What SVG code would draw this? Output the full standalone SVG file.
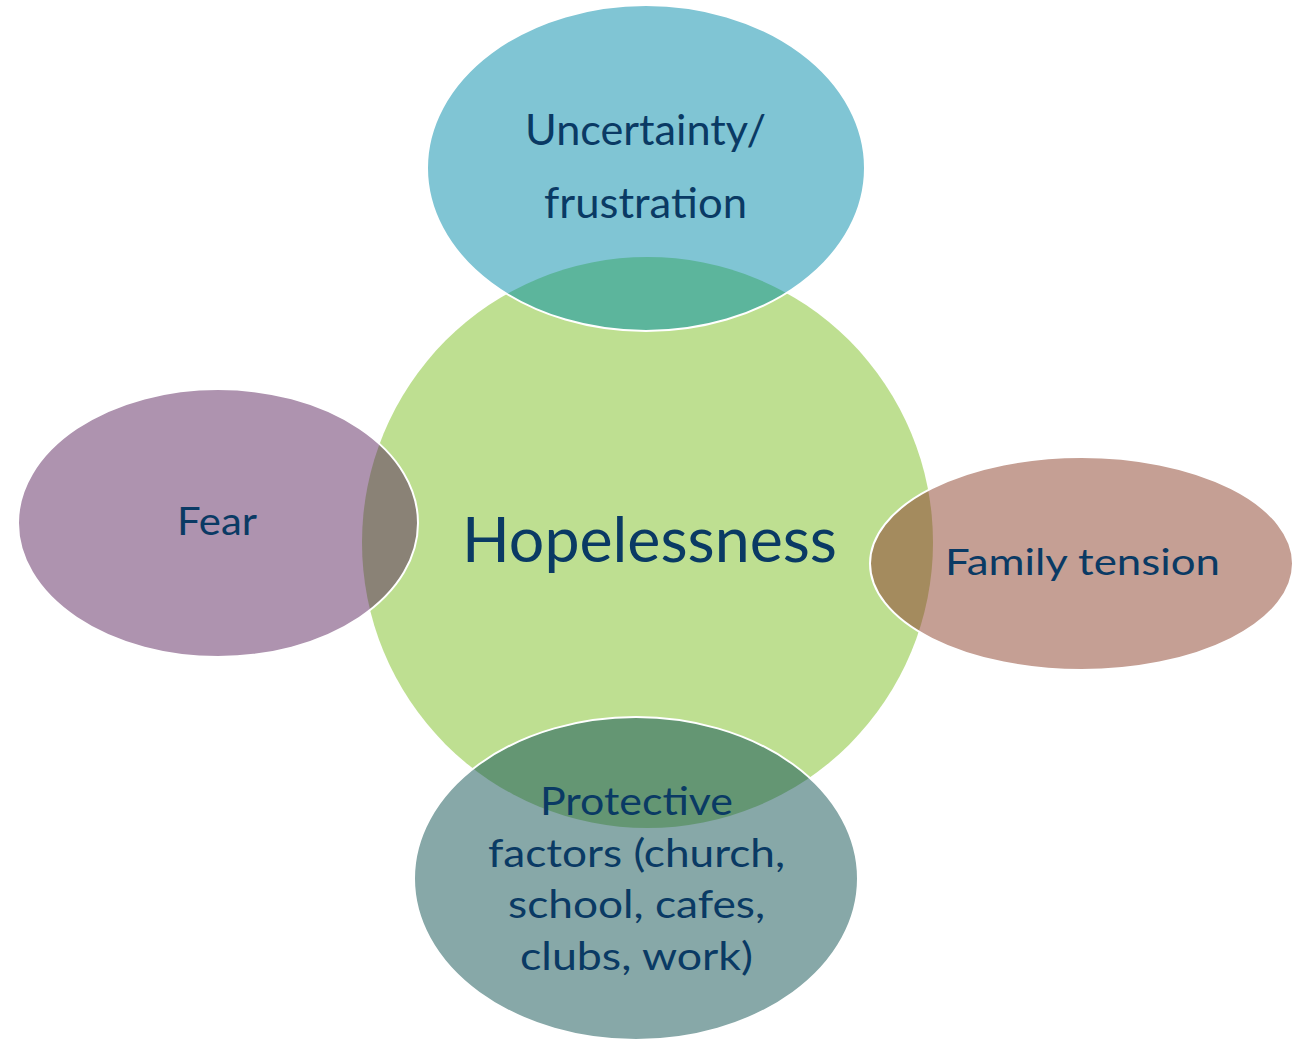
<svg xmlns="http://www.w3.org/2000/svg" width="1298" height="1041" viewBox="0 0 1298 1041">
  <style>
    .lbl { font-family: Lato, "Open Sans", "Liberation Sans", sans-serif; fill: #0A3A64; text-anchor: middle; }
    .edge { fill: none; stroke: #FFFFFF; stroke-width: 2; }
  </style>
  <defs>
    <clipPath id="clipCenter">
      <circle cx="647.5" cy="542.5" r="285.5"/>
    </clipPath>
  </defs>
  <rect width="1298" height="1041" fill="#FFFFFF"/>
  <g id="node-hopelessness">
    <circle cx="647.5" cy="542.5" r="285.5" fill="#BEDF91"/>
  </g>
  <g id="node-uncertainty">
    <ellipse cx="646" cy="168" rx="219" ry="163" fill="#80C5D4"/>
    <ellipse cx="646" cy="168" rx="219" ry="163" fill="#5CB59C" clip-path="url(#clipCenter)"/>
    <ellipse class="edge" cx="646" cy="168" rx="219" ry="163"/>
  </g>
  <g id="node-fear">
    <ellipse cx="218" cy="523" rx="200" ry="134" fill="#AE93AF"/>
    <ellipse cx="218" cy="523" rx="200" ry="134" fill="#8A8276" clip-path="url(#clipCenter)"/>
    <ellipse class="edge" cx="218" cy="523" rx="200" ry="134"/>
  </g>
  <g id="node-family">
    <ellipse cx="1081.5" cy="563.5" rx="211.5" ry="106.5" fill="#C59F94"/>
    <ellipse cx="1081.5" cy="563.5" rx="211.5" ry="106.5" fill="#A48B5E" clip-path="url(#clipCenter)"/>
    <ellipse class="edge" cx="1081.5" cy="563.5" rx="211.5" ry="106.5"/>
  </g>
  <g id="node-protective">
    <ellipse cx="636" cy="878.5" rx="222" ry="161.5" fill="#87A8A8"/>
    <ellipse cx="636" cy="878.5" rx="222" ry="161.5" fill="#649673" clip-path="url(#clipCenter)"/>
    <ellipse class="edge" cx="636" cy="878.5" rx="222" ry="161.5"/>
  </g>
  <g id="connectors"></g>
  <g id="labels">
    <text class="lbl" x="649.5" y="562" font-size="61" textLength="375" lengthAdjust="spacingAndGlyphs">Hopelessness</text>
    <text class="lbl" x="645.5" y="145" font-size="43" textLength="241" lengthAdjust="spacingAndGlyphs">Uncertainty/</text>
    <text class="lbl" x="645.5" y="218" font-size="43" textLength="203" lengthAdjust="spacingAndGlyphs">frustration</text>
    <text class="lbl" x="217" y="535" font-size="38" textLength="80" lengthAdjust="spacingAndGlyphs">Fear</text>
    <text class="lbl" x="1082.5" y="575" font-size="37" textLength="275" lengthAdjust="spacingAndGlyphs">Family tension</text>
    <text class="lbl" x="636.5" y="815" font-size="39" textLength="193" lengthAdjust="spacingAndGlyphs">Protective</text>
    <text class="lbl" x="636.5" y="867" font-size="39" textLength="297" lengthAdjust="spacingAndGlyphs">factors (church,</text>
    <text class="lbl" x="636.5" y="918" font-size="39" textLength="257" lengthAdjust="spacingAndGlyphs">school, cafes,</text>
    <text class="lbl" x="636.5" y="970" font-size="39" textLength="233" lengthAdjust="spacingAndGlyphs">clubs, work)</text>
  </g>
</svg>
